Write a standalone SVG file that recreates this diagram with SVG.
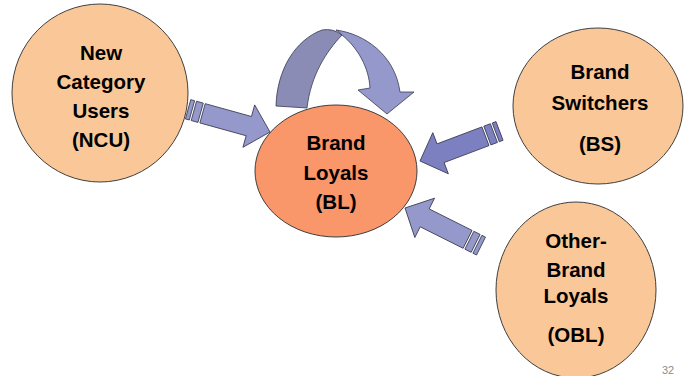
<svg xmlns="http://www.w3.org/2000/svg" width="696" height="376" viewBox="0 0 696 376">
  <defs>
    <style>
      .node { fill: #FAC898; stroke: #3F3F3F; stroke-width: 1; }
      .core { fill: #F9966A; stroke: #3F3F3F; stroke-width: 1; }
      .label { font-family: "Liberation Sans", Arial, sans-serif; font-weight: bold; font-size: 20.5px; fill: #000; text-anchor: middle; }
      .arrow { fill: #9498CB; stroke: #3A3A50; stroke-width: 0.8; stroke-linejoin: miter; }
      .arrow-dark { fill: #7C80C1; }
      .band-back { fill: #8B8CB6; stroke: #3A3A50; stroke-width: 0.8; }
      .pageno { font-family: "Liberation Sans", Arial, sans-serif; font-size: 11px; fill: #8C8C8C; text-anchor: middle; }
    </style>
    <!-- Striped block arrow, tip at the origin, pointing along +x -->
    <g id="block-arrow">
      <rect x="-85" y="-10" width="4" height="20"/>
      <rect x="-79" y="-10" width="7" height="20"/>
      <path d="M-70,-10 L-22,-10 L-22,-22 L0,0 L-22,22 L-22,10 L-70,10 Z"/>
    </g>
  </defs>

  <rect width="696" height="376" fill="#FFFFFF"/>

  <g id="ncu">
    <ellipse class="node" cx="100" cy="93" rx="88" ry="89"/>
    <text class="label" x="101" y="60">New</text>
    <text class="label" x="101" y="89">Category</text>
    <text class="label" x="101" y="118">Users</text>
    <text class="label" x="101" y="147">(NCU)</text>
  </g>

  <g id="bl">
    <ellipse class="core" cx="336" cy="171" rx="81" ry="66"/>
    <text class="label" x="336" y="150">Brand</text>
    <text class="label" x="336" y="180">Loyals</text>
    <text class="label" x="336" y="209">(BL)</text>
  </g>

  <g id="bs">
    <ellipse class="node" cx="598" cy="106" rx="85" ry="78"/>
    <text class="label" x="600" y="79">Brand</text>
    <text class="label" x="600" y="110">Switchers</text>
    <text class="label" x="600" y="151">(BS)</text>
  </g>

  <g id="obl">
    <ellipse class="node" cx="576" cy="290" rx="80" ry="88"/>
    <text class="label" x="576" y="248">Other-</text>
    <text class="label" x="576" y="277">Brand</text>
    <text class="label" x="576" y="303">Loyals</text>
    <text class="label" x="576" y="342">(OBL)</text>
  </g>

  <g id="connectors">
    <!-- NCU to BL -->
    <use href="#block-arrow" class="arrow" transform="translate(270,132) rotate(15.5)"/>
    <!-- BS to BL -->
    <use href="#block-arrow" class="arrow arrow-dark" transform="translate(420,161) rotate(159.3)"/>
    <!-- OBL to BL -->
    <use href="#block-arrow" class="arrow" transform="translate(405,208) rotate(206.6)"/>
    <!-- BL loop: back band and front band with head -->
    <path class="band-back" d="M276,106 C277,70 295,40 322,30 Q333,28 342,35 C326,52 311,75 307,108 Z"/>
    <path class="arrow" d="M336,30 C365,34 395,55 400,92 L414,92 L387,114 L358,90 L370,88 C369,68 358,48 342,35 Q340,32 336,30 Z"/>
  </g>

  <text class="pageno" x="668" y="374">32</text>
</svg>
